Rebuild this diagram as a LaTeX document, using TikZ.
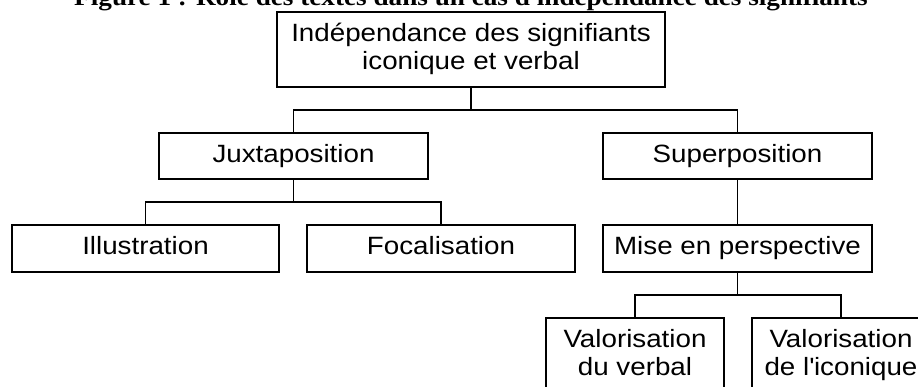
\documentclass[tikz,border=0pt]{standalone}
\usepackage{fontspec}
\setmainfont{Liberation Sans}[FakeStretch=1.11]
\newfontfamily\titlefont{Liberation Serif}[FakeStretch=1.11]
\begin{document}
\begin{tikzpicture}[x=1pt,y=-1pt,
  box/.style={draw, line width=1.8pt, inner sep=0pt,
    font=\fontsize{25}{27.5}\selectfont, text height=18pt, text depth=5.4pt,
    minimum height=46pt},
  boxtwo/.style={box, align=center, text height=45.5pt, text depth=5.9pt,
    minimum height=75pt},
  conn/.style={line width=1.8pt}]
\useasboundingbox (0,0) rectangle (918,387);
\clip (0,0) rectangle (918,387);
\node[anchor=base, font=\titlefont\bfseries\fontsize{24.5}{27}\selectfont] (title) at (471,6)
  {Figure 1 : Rôle des textes dans un cas d\textquotesingle indépendance des signifiants};
\node[boxtwo, minimum width=388pt] (top) at (471,49.5)
  {Indépendance des signifiants\\iconique et verbal};
\node[box, minimum width=269pt] (juxt) at (293.5,156) {Juxtaposition};
\node[box, minimum width=269pt] (super) at (737.5,156) {Superposition};
\node[box, minimum width=267pt, minimum height=47pt] (illus) at (145.5,248.5) {Illustration};
\node[box, minimum width=268pt, minimum height=47pt] (focal) at (441,248.5) {Focalisation};
\node[box, minimum width=269pt, minimum height=47pt] (mise) at (737.5,248.5) {Mise en perspective};
\node[boxtwo, minimum width=178pt] (val1) at (635,355.5) {Valorisation\\du verbal};
\node[boxtwo, minimum width=178pt] (val2) at (841,355.5) {Valorisation\\de l\textquotesingle iconique};
\coordinate (b1) at (471,110);
\coordinate (b2) at (293.5,202);
\coordinate (b3) at (737.5,295);
\draw[conn] (top.south) -- (b1);
\draw[conn] (juxt.north) |- (b1) -| (super.north);
\draw[conn] (juxt.south) -- (b2);
\draw[conn] (illus.north) |- (b2) -| (focal.north);
\draw[conn] (super.south) -- (mise.north);
\draw[conn] (mise.south) -- (b3);
\draw[conn] (val1.north) |- (b3) -| (val2.north);
\end{tikzpicture}
\end{document}
